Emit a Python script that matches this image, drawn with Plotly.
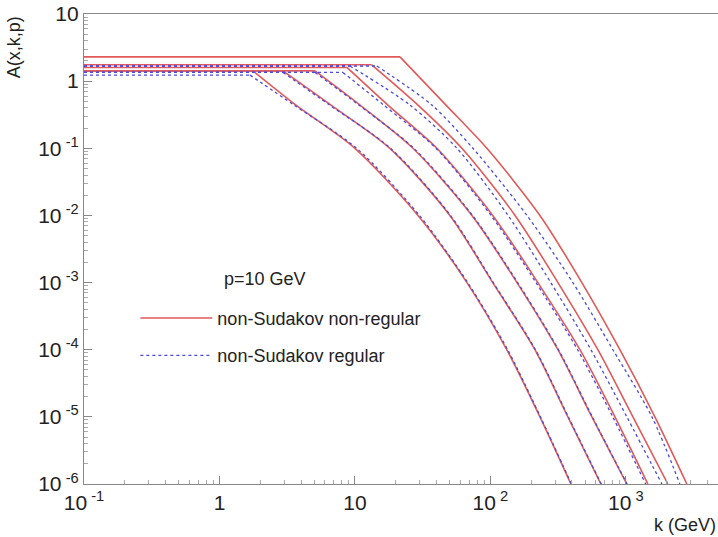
import plotly.graph_objects as go

# y values at the read-off rows (level, then decades)
red_levels = [1.42, 1.42, 1.42, 1.6, 1.75, 2.3]
blue_levels = [1.23, 1.35, 1.35, 1.35, 1.68, 1.68]
tail_y = [0.44, 0.1, 0.01, 1e-3, 1e-4, 1e-5, 1e-6]

# k values (GeV): kink, then where curve crosses each tail_y value
red_k = [
    [1.77, 3.67, 10.0, 29.2, 67.1, 132, 232, 393],
    [2.94, 6.65, 18.1, 50.2, 104, 213, 373, 654],
    [5.07, 10.9, 26.8, 73.0, 157, 315, 561, 1016],
    [8.73, 17.5, 40.3, 104, 224, 458, 830, 1453],
    [13.3, 29.2, 61.6, 152, 315, 621, 1127, 2042],
    [21.5, 47.0, 94.2, 232, 473, 903, 1637, 2818],
]
blue_k = [
    [1.68, 3.55, 10.3, 29.9, 68.0, 134, 234, 396],
    [2.94, 6.5, 18.3, 50.8, 105, 215, 376, 658],
    [5.07, 10.7, 27.2, 73.8, 159, 318, 565, 1020],
    [8.15, 16.3, 39.6, 101, 217, 440, 800, 1400],
    [9.18, 25.5, 56.6, 135, 279, 552, 1016, 1845],
    [14.5, 37.0, 74.3, 186, 406, 802, 1556, 2504],
]
k_min = 0.1

x_tickvals = [0.1, 1, 10, 100, 1000]
x_ticktext = ["10<sup> -1</sup>", "1", "10", "10<sup> 2</sup>", "10<sup> 3</sup>"]
y_tickvals = [10, 1, 0.1, 0.01, 1e-3, 1e-4, 1e-5, 1e-6]
y_ticktext = ["10", "1", "10<sup> -1</sup>", "10<sup> -2</sup>", "10<sup> -3</sup>",
              "10<sup> -4</sup>", "10<sup> -5</sup>", "10<sup> -6</sup>"]

x_minor = [m * 10.0 ** e for e in range(-1, 4) for m in range(2, 10)]
y_minor = [m * 10.0 ** e for e in range(-6, 1) for m in range(2, 10)]

RED = "#e05a5a"
BLUE = "#4a4ae0"
FONT = "Liberation Sans, Arial"

fig = go.Figure()


def add_curve(lev, ks, line, name, group, show):
    # flat part (straight) up to the kink
    fig.add_trace(go.Scatter(
        x=[k_min, ks[0]], y=[lev, lev], mode="lines", line=line,
        name=name, legendgroup=group, showlegend=show))
    # smooth falling tail from the kink
    fig.add_trace(go.Scatter(
        x=ks, y=[lev] + tail_y, mode="lines",
        line=dict(line, shape="spline", smoothing=0.8),
        name=name, legendgroup=group, showlegend=False))


for i, (lev, ks) in enumerate(zip(red_levels, red_k)):
    add_curve(lev, ks, dict(color=RED, width=1.6),
              "non-Sudakov non-regular", "red", i == 0)
for i, (lev, ks) in enumerate(zip(blue_levels, blue_k)):
    add_curve(lev, ks, dict(color=BLUE, width=1.3, dash="3px,3px"),
              "non-Sudakov regular", "blue", i == 0)

axis_common = dict(
    type="log", showline=True, linecolor="#888888", linewidth=1.2, mirror=True,
    ticks="inside", ticklen=8, tickcolor="#888888", showgrid=False, zeroline=False,
    tickfont=dict(family=FONT, size=21, color="#222222"),
)
fig.update_xaxes(range=[-1, 3.68], tickmode="array", tickvals=x_tickvals,
                 ticktext=x_ticktext,
                 minor=dict(ticks="inside", ticklen=4, tickcolor="#aaaaaa",
                            tickmode="array", tickvals=x_minor, showgrid=False),
                 **axis_common)
fig.update_yaxes(range=[-6, 1], tickmode="array", tickvals=y_tickvals,
                 ticktext=y_ticktext,
                 minor=dict(ticks="inside", ticklen=4, tickcolor="#aaaaaa",
                            tickmode="array", tickvals=y_minor, showgrid=False),
                 **axis_common)

fig.add_annotation(text="A(x,k,p)", xref="paper", yref="paper", x=-0.11, y=1.0,
                   xanchor="center", yanchor="top", textangle=-90, showarrow=False,
                   font=dict(family=FONT, size=18, color="#222222"))
fig.add_annotation(text="k (GeV)", xref="paper", yref="paper", x=1.0, y=-0.112,
                   xanchor="right", yanchor="bottom", showarrow=False,
                   font=dict(family=FONT, size=18, color="#222222"))
fig.add_annotation(text="p=10 GeV", xref="paper", yref="paper", x=0.218, y=0.436,
                   xanchor="left", yanchor="middle", showarrow=False,
                   font=dict(family=FONT, size=18, color="#222222"))

fig.update_layout(
    width=718, height=537,
    margin=dict(l=84, r=0, t=14, b=53),
    paper_bgcolor="white", plot_bgcolor="white",
    legend=dict(x=0.081, y=0.392, xanchor="left", yanchor="top",
                bgcolor="rgba(0,0,0,0)", itemwidth=72, tracegroupgap=11,
                traceorder="grouped",
                font=dict(family=FONT, size=18, color="#222222")),
)

fig.write_html("out.html")
